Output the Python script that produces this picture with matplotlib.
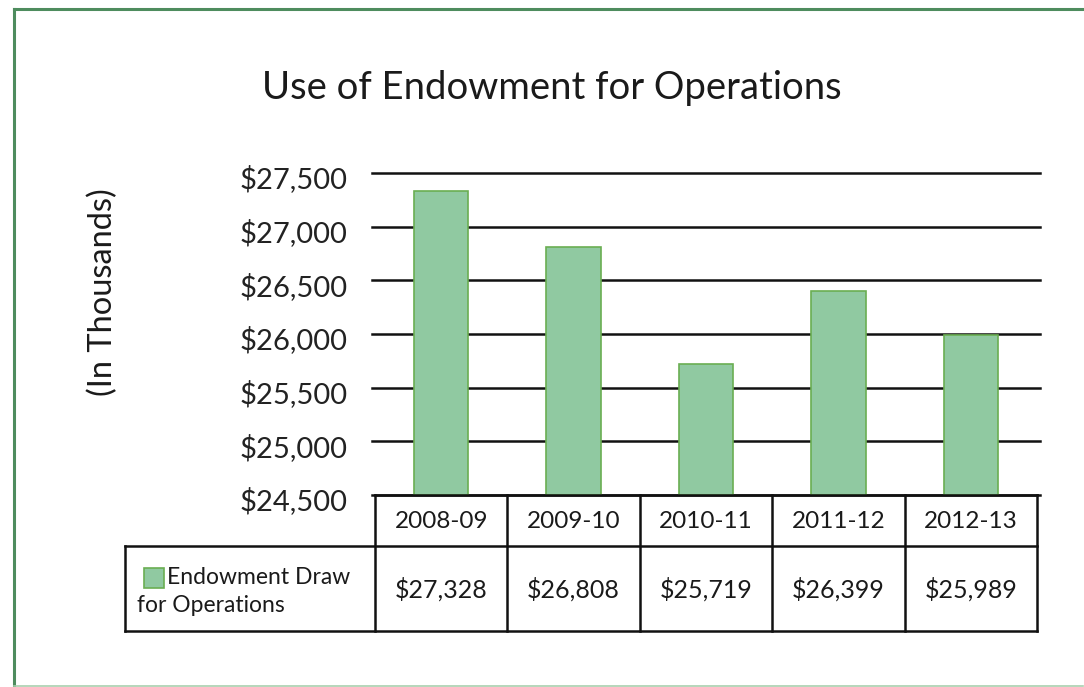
import matplotlib
matplotlib.use("Agg")
import matplotlib.pyplot as plt
import matplotlib.transforms as mtransforms
from matplotlib.patches import Rectangle
from matplotlib.lines import Line2D

plt.rcParams['font.family'] = ['Lato', 'DejaVu Sans']

years = ["2008-09", "2009-10", "2010-11", "2011-12", "2012-13"]
values = [27328, 26808, 25719, 26399, 25989]
yticks = [24500, 25000, 25500, 26000, 26500, 27000, 27500]
series_name = "Endowment Draw\nfor Operations"
title = "Use of Endowment for Operations"
ylabel = "(In Thousands)"

W, H = 1084, 687
fig = plt.figure(figsize=(W / 100, H / 100), dpi=100)

def fx(px):
    return px / W

def fy(py):
    return 1 - py / H

# outer frame
frame_col = "#4e8c5e"
fig.add_artist(Line2D([fx(14), fx(1083)], [fy(9), fy(9)], color=frame_col, lw=2.2))
fig.add_artist(Line2D([fx(14), fx(14)], [fy(9), fy(686)], color=frame_col, lw=2.2))
fig.add_artist(Line2D([fx(14), fx(1083)], [fy(686), fy(686)], color="#a9cfae", lw=1.2))

# axes
ax_l, ax_r, ax_t, ax_b = 375, 1037, 173, 495
ax = fig.add_axes([fx(ax_l), fy(ax_b), fx(ax_r - ax_l), (ax_b - ax_t) / H])
ax.set_xlim(-0.5, len(years) - 0.5)
ax.set_ylim(yticks[0], yticks[-1])
for s in ax.spines.values():
    s.set_visible(False)
ax.set_xticks([])
ax.set_yticks(yticks)
ax.set_yticklabels([f"${v:,.0f}" for v in yticks], fontsize=21, color="#222222")
ax.tick_params(axis='y', length=0, pad=17)
shift = mtransforms.ScaledTranslation(-4 / 100, -4 / 100, fig.dpi_scale_trans)
for lab in ax.get_yticklabels():
    lab.set_transform(lab.get_transform() + shift)
for v in yticks:
    ax.plot([-0.52, 4.52], [v, v], color="#111111", lw=1.8, clip_on=False, zorder=1)

ax.bar(range(len(years)), [v - yticks[0] for v in values], bottom=yticks[0], width=0.41,
       color="#90c9a1", edgecolor="#6aae52", linewidth=1.2, zorder=3)

fig.text(fx(552), fy(88), title, fontsize=27.5, ha="center", va="center", color="#1a1a1a")
fig.text(fx(103), fy(292), ylabel, fontsize=23.5, ha="center", va="center", rotation=90, color="#1a1a1a")

# table
col_w = (ax_r - ax_l) / len(years)
row1_t, row1_b, row2_b = 495, 546, 631
left_col = 125
lw = 1.8
tc = "#111111"
def hline(x0, x1, y):
    fig.add_artist(Line2D([fx(x0), fx(x1)], [fy(y), fy(y)], color=tc, lw=lw))
def vline(x, y0, y1):
    fig.add_artist(Line2D([fx(x), fx(x)], [fy(y0), fy(y1)], color=tc, lw=lw))

hline(ax_l, ax_r, row1_t)
hline(left_col, ax_r, row1_b)
hline(left_col, ax_r, row2_b)
vline(left_col, row1_b, row2_b)
for i in range(len(years) + 1):
    vline(ax_l + i * col_w, row1_t, row2_b)

for i, (yr, v) in enumerate(zip(years, values)):
    cx = ax_l + (i + 0.5) * col_w
    fig.text(fx(cx), fy((row1_t + row1_b) / 2 + 1), yr, fontsize=17.5, ha="center", va="center", color="#1a1a1a")
    fig.text(fx(cx), fy((row1_b + row2_b) / 2 + 1), f"${v:,.0f}", fontsize=18, ha="center", va="center", color="#1a1a1a")

# legend key
fig.add_artist(Rectangle((fx(144), fy(588)), fx(20), 20 / H, facecolor="#90c9a1", edgecolor="#6aae52", lw=1.2))
fig.text(fx(167), fy(578), "Endowment Draw", fontsize=16.5, ha="left", va="center", color="#1a1a1a")
fig.text(fx(137), fy(606), "for Operations", fontsize=16.5, ha="left", va="center", color="#1a1a1a")

fig.savefig("out.png", dpi=100)
